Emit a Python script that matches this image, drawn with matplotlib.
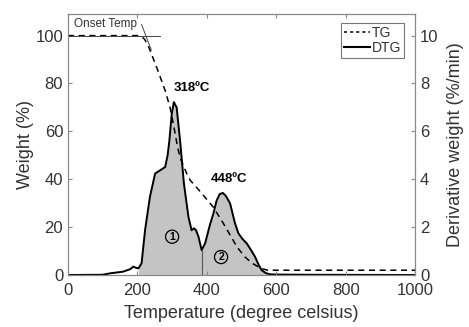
import numpy as np
import matplotlib
matplotlib.use("Agg")
from matplotlib import pyplot as plt
from matplotlib.lines import Line2D

plt.rcParams['font.family'] = ['Liberation Sans', 'DejaVu Sans']

##### data
# TG curve (weight %, left axis)
tg_temp = [0, 100, 200, 210, 220, 230, 240, 260, 280, 294, 305, 315, 323, 342, 352, 380, 409,
           418, 447, 470, 487, 510, 530, 555, 575, 600, 800, 1000]
tg_weight = [100, 100, 100, 99.7, 98.6, 96.2, 92.5, 85, 77, 70, 62, 54, 49, 42.4, 39.6, 35, 30,
             28.5, 21.7, 16, 11.7, 7.5, 5, 2.8, 2, 2, 2, 2]

# DTG curve (derivative weight %/min, right axis)
dtg_temp = [0, 100, 121, 159, 180, 188, 196, 203, 212, 222, 236, 251, 265, 280, 287, 292,
            299, 305, 313, 323, 334, 347, 356, 363, 369, 376, 385, 395, 409, 419, 428, 437,
            446, 455, 467, 481, 491, 503, 515, 527, 539, 550, 558, 570, 582, 600, 700, 1000]
dtg_rate = [0, 0.01, 0.07, 0.14, 0.25, 0.35, 0.3, 0.28, 0.49, 1.87, 3.26, 4.24, 4.37, 4.51, 5.0, 5.6,
            6.74, 7.22, 7.0, 5.6, 3.82, 2.43, 1.87, 1.95, 1.87, 1.6, 1.04, 1.32, 2.1, 2.57, 3.1, 3.38,
            3.43, 3.3, 2.99, 2.17, 1.74, 1.5, 1.32, 1.05, 0.76, 0.4, 0.2, 0.08, 0.03, 0.02, 0.01, 0]

peak_labels = ["318ºC", "448ºC"]
split_temp = 386          # boundary between stage 1 and stage 2
fill_start = 200
fill_end = 590

ink = '#333333'

fig = plt.figure(figsize=(4.69, 3.27), dpi=100)
ax = fig.add_axes([0.145, 0.159, 0.740, 0.798])
ax2 = ax.twinx()
ax.set_zorder(ax2.get_zorder() + 1)     # TG dashed drawn above the grey fill
ax.patch.set_visible(False)

##### DTG with shaded area
t = np.array(dtg_temp, dtype=float)
r = np.array(dtg_rate, dtype=float)
mask = (t >= fill_start) & (t <= fill_end)
ax2.fill_between(t[mask], 0, r[mask], color='#c4c4c4', lw=0)
ax2.plot(t, r, color='black', lw=1.4)
ax2.vlines(split_temp, 0, np.interp(split_temp, t, r), color='#555555', lw=0.8)

##### TG
ax.plot(tg_temp, tg_weight, color='black', ls=(0, (4, 3)), lw=1.1)

##### onset temperature construction
ax.plot([0, 265], [100, 100], color='#444444', lw=0.7)
ax.plot([212, 240], [104.6, 94.0], color='#444444', lw=0.7)
ax.text(17, 105, "Onset Temp", fontsize=8.5, color=ink, va='center')

##### annotations
ax.text(303, 77, peak_labels[0], fontsize=9.5, fontweight='bold', color='black')
ax.text(411, 39, peak_labels[1], fontsize=9.5, fontweight='bold', color='black')
circ = dict(boxstyle='circle,pad=0.15', fc='none', ec='black', lw=0.9)
ax.text(300, 16, "1", fontsize=7.5, fontweight='bold', ha='center', va='center', bbox=circ)
ax.text(441, 7.5, "2", fontsize=7.5, fontweight='bold', ha='center', va='center', bbox=circ)

##### axes
ax.set_xlim(0, 1000)
ax.set_ylim(0, 109)
ax2.set_ylim(0, 10.9)
ax.set_xticks(range(0, 1001, 200))
ax.set_yticks(range(0, 101, 20))
ax2.set_yticks(range(0, 11, 2))
for a in (ax, ax2):
    for s in a.spines.values():
        s.set_color('#888888')
        s.set_linewidth(0.8)
    a.tick_params(direction='in', length=3, color='#888888', labelsize=12, labelcolor=ink)
ax.tick_params(top=True)
ax.tick_params(axis='x', pad=6)
ax.set_xlabel("Temperature (degree celsius)", fontsize=13, color=ink, labelpad=5)
ax.set_ylabel("Weight (%)", fontsize=13, color=ink, labelpad=1)
ax2.set_ylabel("Derivative weight (%/min)", fontsize=13, color=ink, labelpad=6)

handles = [Line2D([], [], color='black', ls=(0, (2, 2)), lw=1.1),
           Line2D([], [], color='black', lw=1.5)]
leg = ax.legend(handles, ["TG", "DTG"], loc='upper right', fontsize=10, handlelength=1.9,
                handletextpad=0.1, borderpad=0.2, labelspacing=0.1, fancybox=False,
                borderaxespad=0, bbox_to_anchor=(0.968, 0.965))
leg.get_frame().set_edgecolor('#555555')
leg.get_frame().set_linewidth(0.8)
for tx in leg.get_texts():
    tx.set_color(ink)

plt.savefig("out.png", dpi=100)
